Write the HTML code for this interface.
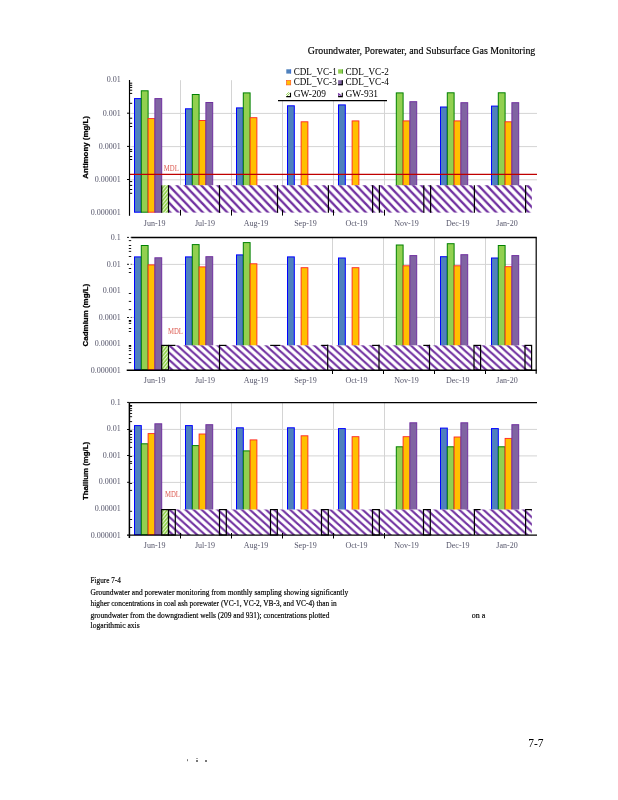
<!DOCTYPE html>
<html lang="en"><head><meta charset="utf-8"><title>Groundwater, Porewater, and Subsurface Gas Monitoring</title>
<style>html,body{margin:0;padding:0;background:#fff}body{width:618px;height:800px;overflow:hidden}svg{display:block}</style></head><body>
<svg width="618" height="800" viewBox="0 0 618 800">
<defs>
<pattern id="hp1" patternUnits="userSpaceOnUse" x="176.7" y="185.2" width="8.15" height="8.5"><path d="M-8.15,-8.5 L16.3,17.0 M0,-8.5 L24.450000000000003,17.0 M-16.3,-8.5 L8.15,17.0" stroke="#7030A0" stroke-width="2.3" fill="none"/></pattern>
<pattern id="hp2" patternUnits="userSpaceOnUse" x="177.2" y="345.3" width="8.05" height="7.3"><path d="M-8.05,-7.3 L16.1,14.6 M0,-7.3 L24.150000000000002,14.6 M-16.1,-7.3 L8.05,14.6" stroke="#7030A0" stroke-width="2.15" fill="none"/></pattern>
<pattern id="hp3" patternUnits="userSpaceOnUse" x="177.2" y="509.5" width="8.05" height="7.3"><path d="M-8.05,-7.3 L16.1,14.6 M0,-7.3 L24.150000000000002,14.6 M-16.1,-7.3 L8.05,14.6" stroke="#7030A0" stroke-width="2.15" fill="none"/></pattern>
<pattern id="hg" patternUnits="userSpaceOnUse" x="161.7" y="0" width="3.4" height="4.2"><path d="M-3.4,8.4 L6.8,-4.2 M-3.4,4.2 L3.4,-4.2 M0,8.4 L6.8,0" stroke="#8FD14A" stroke-width="1.75" fill="none"/></pattern>
</defs>
<rect width="618" height="800" fill="#fff"/>
<text x="535.30" y="54.00" font-family="&quot;Liberation Serif&quot;, serif" font-size="10.6" font-weight="normal" text-anchor="end" fill="#000" textLength="227.50" lengthAdjust="spacingAndGlyphs" stroke="#000" stroke-width="0.18">Groundwater, Porewater, and Subsurface Gas Monitoring</text>
<line x1="130.30" y1="113.40" x2="537.00" y2="113.40" stroke="#D4D4D4" stroke-width="1.0" />
<line x1="130.30" y1="146.60" x2="537.00" y2="146.60" stroke="#D4D4D4" stroke-width="1.0" />
<line x1="130.30" y1="179.80" x2="537.00" y2="179.80" stroke="#D4D4D4" stroke-width="1.0" />
<line x1="180.50" y1="80.20" x2="180.50" y2="212.60" stroke="#D4D4D4" stroke-width="1.0" />
<line x1="231.50" y1="80.20" x2="231.50" y2="212.60" stroke="#D4D4D4" stroke-width="1.0" />
<line x1="282.50" y1="80.20" x2="282.50" y2="212.60" stroke="#D4D4D4" stroke-width="1.0" />
<line x1="333.50" y1="80.20" x2="333.50" y2="212.60" stroke="#D4D4D4" stroke-width="1.0" />
<line x1="384.50" y1="80.20" x2="384.50" y2="212.60" stroke="#D4D4D4" stroke-width="1.0" />
<rect x="134.50" y="98.60" width="6.80" height="113.60" fill="#4F81BD" stroke="#0000FF" stroke-width="1.0"/>
<rect x="141.30" y="90.80" width="6.80" height="121.40" fill="#92D050" stroke="#008000" stroke-width="1.0"/>
<rect x="148.10" y="118.60" width="6.80" height="93.60" fill="#FFC000" stroke="#FF2222" stroke-width="0.9"/>
<rect x="154.90" y="98.60" width="6.80" height="113.60" fill="#8064A2" stroke="#7030A0" stroke-width="1.0"/>
<rect x="185.50" y="108.80" width="6.80" height="103.40" fill="#4F81BD" stroke="#0000FF" stroke-width="1.0"/>
<rect x="192.30" y="94.50" width="6.80" height="117.70" fill="#92D050" stroke="#008000" stroke-width="1.0"/>
<rect x="199.10" y="120.50" width="6.80" height="91.70" fill="#FFC000" stroke="#FF2222" stroke-width="0.9"/>
<rect x="205.90" y="102.50" width="6.80" height="109.70" fill="#8064A2" stroke="#7030A0" stroke-width="1.0"/>
<rect x="236.50" y="107.90" width="6.80" height="104.30" fill="#4F81BD" stroke="#0000FF" stroke-width="1.0"/>
<rect x="243.30" y="92.90" width="6.80" height="119.30" fill="#92D050" stroke="#008000" stroke-width="1.0"/>
<rect x="250.10" y="117.70" width="6.80" height="94.50" fill="#FFC000" stroke="#FF2222" stroke-width="0.9"/>
<rect x="287.50" y="105.80" width="6.80" height="106.40" fill="#4F81BD" stroke="#0000FF" stroke-width="1.0"/>
<rect x="301.10" y="121.80" width="6.80" height="90.40" fill="#FFC000" stroke="#FF2222" stroke-width="0.9"/>
<rect x="338.50" y="104.90" width="6.80" height="107.30" fill="#4F81BD" stroke="#0000FF" stroke-width="1.0"/>
<rect x="352.10" y="120.90" width="6.80" height="91.30" fill="#FFC000" stroke="#FF2222" stroke-width="0.9"/>
<rect x="396.30" y="92.90" width="6.80" height="119.30" fill="#92D050" stroke="#008000" stroke-width="1.0"/>
<rect x="403.10" y="120.90" width="6.80" height="91.30" fill="#FFC000" stroke="#FF2222" stroke-width="0.9"/>
<rect x="409.90" y="101.70" width="6.80" height="110.50" fill="#8064A2" stroke="#7030A0" stroke-width="1.0"/>
<rect x="440.50" y="107.00" width="6.80" height="105.20" fill="#4F81BD" stroke="#0000FF" stroke-width="1.0"/>
<rect x="447.30" y="92.80" width="6.80" height="119.40" fill="#92D050" stroke="#008000" stroke-width="1.0"/>
<rect x="454.10" y="120.90" width="6.80" height="91.30" fill="#FFC000" stroke="#FF2222" stroke-width="0.9"/>
<rect x="460.90" y="102.70" width="6.80" height="109.50" fill="#8064A2" stroke="#7030A0" stroke-width="1.0"/>
<rect x="491.50" y="106.10" width="6.80" height="106.10" fill="#4F81BD" stroke="#0000FF" stroke-width="1.0"/>
<rect x="498.30" y="92.80" width="6.80" height="119.40" fill="#92D050" stroke="#008000" stroke-width="1.0"/>
<rect x="505.10" y="121.80" width="6.80" height="90.40" fill="#FFC000" stroke="#FF2222" stroke-width="0.9"/>
<rect x="511.90" y="102.70" width="6.80" height="109.50" fill="#8064A2" stroke="#7030A0" stroke-width="1.0"/>
<line x1="130.00" y1="174.40" x2="537.00" y2="174.40" stroke="#C00000" stroke-width="1.4" />
<text x="163.80" y="171.10" font-family="&quot;Liberation Serif&quot;, serif" font-size="7.5" font-weight="normal" text-anchor="start" fill="#DC5A50" textLength="15.00" lengthAdjust="spacingAndGlyphs" >MDL</text>
<rect x="161.7" y="185.2" width="6.8" height="27.40" fill="#fff"/>
<rect x="161.7" y="185.2" width="6.8" height="27.40" fill="url(#hg)"/>
<rect x="168.5" y="185.2" width="363.4" height="27.80" fill="#fff"/>
<rect x="168.5" y="185.2" width="363.4" height="27.40" fill="url(#hp1)"/>
<line x1="161.70" y1="185.20" x2="161.70" y2="212.80" stroke="#000" stroke-width="1.2" />
<line x1="168.50" y1="185.20" x2="168.50" y2="212.80" stroke="#000" stroke-width="1.2" />
<line x1="219.50" y1="185.20" x2="219.50" y2="212.80" stroke="#000" stroke-width="1.2" />
<line x1="277.50" y1="185.20" x2="277.50" y2="212.80" stroke="#000" stroke-width="1.2" />
<line x1="328.40" y1="185.20" x2="328.40" y2="212.80" stroke="#000" stroke-width="1.2" />
<line x1="372.60" y1="185.20" x2="372.60" y2="212.80" stroke="#000" stroke-width="1.2" />
<line x1="379.40" y1="185.20" x2="379.40" y2="212.80" stroke="#000" stroke-width="1.2" />
<line x1="423.80" y1="185.20" x2="423.80" y2="212.80" stroke="#000" stroke-width="1.2" />
<line x1="430.60" y1="185.20" x2="430.60" y2="212.80" stroke="#000" stroke-width="1.2" />
<line x1="474.40" y1="185.20" x2="474.40" y2="212.80" stroke="#000" stroke-width="1.2" />
<line x1="525.60" y1="185.20" x2="525.60" y2="212.80" stroke="#000" stroke-width="1.2" />
<line x1="180.50" y1="209.80" x2="180.50" y2="215.60" stroke="#000" stroke-width="1.0" />
<line x1="231.50" y1="209.80" x2="231.50" y2="215.60" stroke="#000" stroke-width="1.0" />
<line x1="282.50" y1="209.80" x2="282.50" y2="215.60" stroke="#000" stroke-width="1.0" />
<line x1="333.50" y1="209.80" x2="333.50" y2="215.60" stroke="#000" stroke-width="1.0" />
<line x1="384.50" y1="209.80" x2="384.50" y2="215.60" stroke="#000" stroke-width="1.0" />
<line x1="129.50" y1="80.00" x2="129.50" y2="215.80" stroke="#000" stroke-width="1.15" />
<line x1="129.50" y1="83.20" x2="132.20" y2="83.20" stroke="#000" stroke-width="1.0" />
<line x1="129.50" y1="85.30" x2="132.20" y2="85.30" stroke="#000" stroke-width="1.0" />
<line x1="129.50" y1="87.40" x2="132.20" y2="87.40" stroke="#000" stroke-width="1.0" />
<line x1="129.50" y1="90.20" x2="132.20" y2="90.20" stroke="#000" stroke-width="1.0" />
<line x1="129.50" y1="93.40" x2="132.20" y2="93.40" stroke="#000" stroke-width="1.0" />
<line x1="129.50" y1="103.30" x2="132.20" y2="103.30" stroke="#000" stroke-width="1.0" />
<line x1="129.50" y1="118.20" x2="132.20" y2="118.20" stroke="#000" stroke-width="1.0" />
<line x1="129.50" y1="123.30" x2="132.20" y2="123.30" stroke="#000" stroke-width="1.0" />
<line x1="129.50" y1="126.50" x2="132.20" y2="126.50" stroke="#000" stroke-width="1.0" />
<line x1="129.50" y1="149.60" x2="132.20" y2="149.60" stroke="#000" stroke-width="1.0" />
<line x1="129.50" y1="151.40" x2="132.20" y2="151.40" stroke="#000" stroke-width="1.0" />
<line x1="129.50" y1="156.60" x2="132.20" y2="156.60" stroke="#000" stroke-width="1.0" />
<line x1="129.50" y1="159.50" x2="132.20" y2="159.50" stroke="#000" stroke-width="1.0" />
<line x1="129.50" y1="181.60" x2="132.20" y2="181.60" stroke="#000" stroke-width="1.0" />
<line x1="129.50" y1="185.40" x2="132.20" y2="185.40" stroke="#000" stroke-width="1.0" />
<line x1="129.50" y1="189.50" x2="132.20" y2="189.50" stroke="#000" stroke-width="1.0" />
<line x1="129.50" y1="193.30" x2="132.20" y2="193.30" stroke="#000" stroke-width="1.0" />
<line x1="127.00" y1="113.20" x2="129.50" y2="113.20" stroke="#000" stroke-width="1.0" />
<line x1="127.00" y1="146.40" x2="129.50" y2="146.40" stroke="#000" stroke-width="1.0" />
<line x1="127.00" y1="179.50" x2="129.50" y2="179.50" stroke="#000" stroke-width="1.0" />
<rect x="278" y="60" width="109" height="40.6" fill="#fff"/>
<line x1="278.00" y1="100.70" x2="387.00" y2="100.70" stroke="#000" stroke-width="1.2" />
<rect x="286.3" y="69.3" width="4.7" height="4.3" fill="#4F81BD"/><path d="M290.7,69.3 v4.3" stroke="#2F5FE0" stroke-width="0.6"/>
<text x="293.70" y="74.80" font-family="&quot;Liberation Serif&quot;, serif" font-size="10.2" font-weight="normal" text-anchor="start" fill="#000" textLength="43.00" lengthAdjust="spacingAndGlyphs" >CDL_VC-1</text>
<rect x="338.1" y="69.3" width="4.7" height="4.3" fill="#92D050"/><path d="M342.5,69.3 v4.3" stroke="#2E8B1E" stroke-width="0.7"/>
<text x="345.50" y="74.80" font-family="&quot;Liberation Serif&quot;, serif" font-size="10.2" font-weight="normal" text-anchor="start" fill="#000" textLength="43.30" lengthAdjust="spacingAndGlyphs" >CDL_VC-2</text>
<rect x="286.6" y="80.5" width="4.1000000000000005" height="4.4" fill="#FFC000" stroke="#FF5A1F" stroke-width="0.7"/>
<text x="293.70" y="85.30" font-family="&quot;Liberation Serif&quot;, serif" font-size="10.2" font-weight="normal" text-anchor="start" fill="#000" textLength="43.00" lengthAdjust="spacingAndGlyphs" >CDL_VC-3</text>
<rect x="338.1" y="80.2" width="4.7" height="5.0" fill="#8064A2"/><path d="M342.3,80.2 v4.5 h-4.2" stroke="#000" stroke-width="1.1" fill="none"/>
<text x="345.50" y="85.30" font-family="&quot;Liberation Serif&quot;, serif" font-size="10.2" font-weight="normal" text-anchor="start" fill="#000" textLength="43.30" lengthAdjust="spacingAndGlyphs" >CDL_VC-4</text>
<rect x="286.3" y="92.2" width="4.7" height="4.9" fill="#fff"/><path d="M286.3,94.8 L288.90000000000003,92.2 M286.3,96.8 L289.90000000000003,93.2" stroke="#92D050" stroke-width="1.0" fill="none"/><path d="M290.5,92.8 v3.8000000000000003 h-4.2" stroke="#000" stroke-width="1.1" fill="none"/>
<text x="293.70" y="97.20" font-family="&quot;Liberation Serif&quot;, serif" font-size="10.2" font-weight="normal" text-anchor="start" fill="#000" textLength="32.30" lengthAdjust="spacingAndGlyphs" >GW-209</text>
<rect x="338.1" y="92.2" width="4.7" height="4.9" fill="#fff"/><path d="M338.70000000000005,93.2 L338.70000000000005,96.2 M338.1,93.4 L341.3,95.8" stroke="#7030A0" stroke-width="1.1" fill="none"/><path d="M342.3,92.8 v3.8000000000000003 h-4.2" stroke="#000" stroke-width="1.1" fill="none"/>
<text x="345.50" y="97.20" font-family="&quot;Liberation Serif&quot;, serif" font-size="10.2" font-weight="normal" text-anchor="start" fill="#000" textLength="32.60" lengthAdjust="spacingAndGlyphs" >GW-931</text>
<text x="120.70" y="81.70" font-family="&quot;Liberation Serif&quot;, serif" font-size="8" font-weight="normal" text-anchor="end" fill="#55556a" >0.01</text>
<text x="120.70" y="115.80" font-family="&quot;Liberation Serif&quot;, serif" font-size="8" font-weight="normal" text-anchor="end" fill="#55556a" >0.001</text>
<text x="120.70" y="149.00" font-family="&quot;Liberation Serif&quot;, serif" font-size="8" font-weight="normal" text-anchor="end" fill="#55556a" >0.0001</text>
<text x="120.70" y="181.70" font-family="&quot;Liberation Serif&quot;, serif" font-size="8" font-weight="normal" text-anchor="end" fill="#55556a" >0.00001</text>
<text x="120.70" y="214.90" font-family="&quot;Liberation Serif&quot;, serif" font-size="8" font-weight="normal" text-anchor="end" fill="#55556a" >0.000001</text>
<text x="154.70" y="225.70" font-family="&quot;Liberation Serif&quot;, serif" font-size="8" font-weight="normal" text-anchor="middle" fill="#55556a" >Jun-19</text>
<text x="205.00" y="225.70" font-family="&quot;Liberation Serif&quot;, serif" font-size="8" font-weight="normal" text-anchor="middle" fill="#55556a" >Jul-19</text>
<text x="256.00" y="225.70" font-family="&quot;Liberation Serif&quot;, serif" font-size="8" font-weight="normal" text-anchor="middle" fill="#55556a" >Aug-19</text>
<text x="305.50" y="225.70" font-family="&quot;Liberation Serif&quot;, serif" font-size="8" font-weight="normal" text-anchor="middle" fill="#55556a" >Sep-19</text>
<text x="356.50" y="225.70" font-family="&quot;Liberation Serif&quot;, serif" font-size="8" font-weight="normal" text-anchor="middle" fill="#55556a" >Oct-19</text>
<text x="406.50" y="225.70" font-family="&quot;Liberation Serif&quot;, serif" font-size="8" font-weight="normal" text-anchor="middle" fill="#55556a" >Nov-19</text>
<text x="457.80" y="225.70" font-family="&quot;Liberation Serif&quot;, serif" font-size="8" font-weight="normal" text-anchor="middle" fill="#55556a" >Dec-19</text>
<text x="507.00" y="225.70" font-family="&quot;Liberation Serif&quot;, serif" font-size="8" font-weight="normal" text-anchor="middle" fill="#55556a" >Jan-20</text>
<text transform="translate(87.5,147.4) rotate(-90)" font-family="&quot;Liberation Sans&quot;, sans-serif" font-size="7.3" font-weight="bold" text-anchor="middle" fill="#000" stroke="#000" stroke-width="0.25" textLength="62.8" lengthAdjust="spacingAndGlyphs">Antimony (mg/L)</text>
<line x1="131.30" y1="264.40" x2="536.00" y2="264.40" stroke="#D4D4D4" stroke-width="1.0" />
<line x1="131.30" y1="317.40" x2="536.00" y2="317.40" stroke="#D4D4D4" stroke-width="1.0" />
<line x1="332.50" y1="238.00" x2="332.50" y2="370.00" stroke="#D4D4D4" stroke-width="1.0" />
<line x1="383.50" y1="238.00" x2="383.50" y2="370.00" stroke="#D4D4D4" stroke-width="1.0" />
<line x1="434.50" y1="238.00" x2="434.50" y2="370.00" stroke="#D4D4D4" stroke-width="1.0" />
<line x1="485.50" y1="238.00" x2="485.50" y2="370.00" stroke="#D4D4D4" stroke-width="1.0" />
<rect x="134.50" y="256.90" width="6.80" height="112.70" fill="#4F81BD" stroke="#0000FF" stroke-width="1.0"/>
<rect x="141.30" y="245.50" width="6.80" height="124.10" fill="#92D050" stroke="#008000" stroke-width="1.0"/>
<rect x="148.10" y="264.90" width="6.80" height="104.70" fill="#FFC000" stroke="#FF2222" stroke-width="0.9"/>
<rect x="154.90" y="257.80" width="6.80" height="111.80" fill="#8064A2" stroke="#7030A0" stroke-width="1.0"/>
<rect x="185.50" y="256.90" width="6.80" height="112.70" fill="#4F81BD" stroke="#0000FF" stroke-width="1.0"/>
<rect x="192.30" y="244.60" width="6.80" height="125.00" fill="#92D050" stroke="#008000" stroke-width="1.0"/>
<rect x="199.10" y="266.90" width="6.80" height="102.70" fill="#FFC000" stroke="#FF2222" stroke-width="0.9"/>
<rect x="205.90" y="256.70" width="6.80" height="112.90" fill="#8064A2" stroke="#7030A0" stroke-width="1.0"/>
<rect x="236.50" y="254.90" width="6.80" height="114.70" fill="#4F81BD" stroke="#0000FF" stroke-width="1.0"/>
<rect x="243.30" y="242.60" width="6.80" height="127.00" fill="#92D050" stroke="#008000" stroke-width="1.0"/>
<rect x="250.10" y="263.80" width="6.80" height="105.80" fill="#FFC000" stroke="#FF2222" stroke-width="0.9"/>
<rect x="287.50" y="256.90" width="6.80" height="112.70" fill="#4F81BD" stroke="#0000FF" stroke-width="1.0"/>
<rect x="301.10" y="267.70" width="6.80" height="101.90" fill="#FFC000" stroke="#FF2222" stroke-width="0.9"/>
<rect x="338.50" y="258.00" width="6.80" height="111.60" fill="#4F81BD" stroke="#0000FF" stroke-width="1.0"/>
<rect x="352.10" y="267.70" width="6.80" height="101.90" fill="#FFC000" stroke="#FF2222" stroke-width="0.9"/>
<rect x="396.30" y="245.00" width="6.80" height="124.60" fill="#92D050" stroke="#008000" stroke-width="1.0"/>
<rect x="403.10" y="265.80" width="6.80" height="103.80" fill="#FFC000" stroke="#FF2222" stroke-width="0.9"/>
<rect x="409.90" y="255.60" width="6.80" height="114.00" fill="#8064A2" stroke="#7030A0" stroke-width="1.0"/>
<rect x="440.50" y="256.70" width="6.80" height="112.90" fill="#4F81BD" stroke="#0000FF" stroke-width="1.0"/>
<rect x="447.30" y="243.70" width="6.80" height="125.90" fill="#92D050" stroke="#008000" stroke-width="1.0"/>
<rect x="454.10" y="265.80" width="6.80" height="103.80" fill="#FFC000" stroke="#FF2222" stroke-width="0.9"/>
<rect x="460.90" y="254.70" width="6.80" height="114.90" fill="#8064A2" stroke="#7030A0" stroke-width="1.0"/>
<rect x="491.50" y="258.00" width="6.80" height="111.60" fill="#4F81BD" stroke="#0000FF" stroke-width="1.0"/>
<rect x="498.30" y="245.50" width="6.80" height="124.10" fill="#92D050" stroke="#008000" stroke-width="1.0"/>
<rect x="505.10" y="266.70" width="6.80" height="102.90" fill="#FFC000" stroke="#FF2222" stroke-width="0.9"/>
<rect x="511.90" y="255.60" width="6.80" height="114.00" fill="#8064A2" stroke="#7030A0" stroke-width="1.0"/>
<text x="167.90" y="334.00" font-family="&quot;Liberation Serif&quot;, serif" font-size="7.5" font-weight="normal" text-anchor="start" fill="#DC5A50" textLength="15.00" lengthAdjust="spacingAndGlyphs" >MDL</text>
<rect x="161.7" y="345.3" width="6.8" height="24.70" fill="#fff"/>
<rect x="161.7" y="345.3" width="6.8" height="24.70" fill="url(#hg)"/>
<rect x="168.5" y="345.3" width="363.4" height="25.10" fill="#fff"/>
<rect x="168.5" y="345.3" width="363.4" height="24.70" fill="url(#hp2)"/>
<rect x="161.7" y="345.4" width="6.8" height="24.6" fill="none" stroke="#000" stroke-width="1.2"/>
<line x1="168.50" y1="345.40" x2="175.40" y2="345.40" stroke="#000" stroke-width="1.2" />
<line x1="219.50" y1="345.40" x2="226.40" y2="345.40" stroke="#000" stroke-width="1.2" />
<line x1="270.20" y1="345.40" x2="280.40" y2="345.40" stroke="#000" stroke-width="1.2" />
<line x1="321.20" y1="345.40" x2="328.30" y2="345.40" stroke="#000" stroke-width="1.2" />
<line x1="372.10" y1="345.40" x2="379.60" y2="345.40" stroke="#000" stroke-width="1.2" />
<line x1="423.30" y1="345.40" x2="430.10" y2="345.40" stroke="#000" stroke-width="1.2" />
<line x1="219.50" y1="344.80" x2="219.50" y2="370.00" stroke="#000" stroke-width="1.2" />
<line x1="327.70" y1="344.80" x2="327.70" y2="370.00" stroke="#000" stroke-width="1.2" />
<line x1="379.00" y1="344.80" x2="379.00" y2="370.00" stroke="#000" stroke-width="1.2" />
<line x1="429.50" y1="344.80" x2="429.50" y2="370.00" stroke="#000" stroke-width="1.2" />
<rect x="474.0" y="345.4" width="6.6" height="24.6" fill="none" stroke="#000" stroke-width="1.2"/>
<rect x="525.0" y="345.4" width="6.6" height="24.6" fill="none" stroke="#000" stroke-width="1.2"/>
<line x1="131.30" y1="237.50" x2="536.80" y2="237.50" stroke="#000" stroke-width="1.3" />
<line x1="536.20" y1="237.50" x2="536.20" y2="373.80" stroke="#000" stroke-width="1.2" />
<line x1="126.70" y1="370.30" x2="536.80" y2="370.30" stroke="#000" stroke-width="1.4" />
<line x1="332.50" y1="370.00" x2="332.50" y2="374.00" stroke="#000" stroke-width="1.0" />
<line x1="383.50" y1="370.00" x2="383.50" y2="374.00" stroke="#000" stroke-width="1.0" />
<line x1="434.50" y1="370.00" x2="434.50" y2="374.00" stroke="#000" stroke-width="1.0" />
<line x1="485.50" y1="370.00" x2="485.50" y2="374.00" stroke="#000" stroke-width="1.0" />
<line x1="128.80" y1="240.60" x2="131.20" y2="240.60" stroke="#000" stroke-width="0.9" />
<line x1="128.80" y1="245.50" x2="131.20" y2="245.50" stroke="#000" stroke-width="0.9" />
<line x1="128.80" y1="248.50" x2="131.20" y2="248.50" stroke="#000" stroke-width="0.9" />
<line x1="128.80" y1="251.40" x2="131.20" y2="251.40" stroke="#000" stroke-width="0.9" />
<line x1="128.80" y1="256.50" x2="131.20" y2="256.50" stroke="#000" stroke-width="0.9" />
<line x1="128.80" y1="268.50" x2="131.20" y2="268.50" stroke="#000" stroke-width="0.9" />
<line x1="128.80" y1="272.50" x2="131.20" y2="272.50" stroke="#000" stroke-width="0.9" />
<line x1="128.80" y1="293.50" x2="131.20" y2="293.50" stroke="#000" stroke-width="0.9" />
<line x1="128.80" y1="301.40" x2="131.20" y2="301.40" stroke="#000" stroke-width="0.9" />
<line x1="128.80" y1="309.60" x2="131.20" y2="309.60" stroke="#000" stroke-width="0.9" />
<line x1="128.80" y1="323.40" x2="131.20" y2="323.40" stroke="#000" stroke-width="0.9" />
<line x1="128.80" y1="328.50" x2="131.20" y2="328.50" stroke="#000" stroke-width="0.9" />
<line x1="128.80" y1="331.50" x2="131.20" y2="331.50" stroke="#000" stroke-width="0.9" />
<line x1="128.80" y1="348.40" x2="131.20" y2="348.40" stroke="#000" stroke-width="0.9" />
<line x1="128.80" y1="350.60" x2="131.20" y2="350.60" stroke="#000" stroke-width="0.9" />
<line x1="128.80" y1="354.50" x2="131.20" y2="354.50" stroke="#000" stroke-width="0.9" />
<line x1="128.80" y1="358.50" x2="131.20" y2="358.50" stroke="#000" stroke-width="0.9" />
<line x1="128.80" y1="362.60" x2="131.20" y2="362.60" stroke="#000" stroke-width="0.9" />
<line x1="128.80" y1="320.90" x2="131.20" y2="320.90" stroke="#000" stroke-width="1.8" />
<line x1="128.80" y1="345.90" x2="131.20" y2="345.90" stroke="#000" stroke-width="1.8" />
<line x1="127.00" y1="237.40" x2="129.00" y2="237.40" stroke="#000" stroke-width="0.9" />
<line x1="130.70" y1="237.40" x2="131.60" y2="237.40" stroke="#000" stroke-width="0.9" />
<line x1="127.00" y1="264.30" x2="129.00" y2="264.30" stroke="#000" stroke-width="0.9" />
<line x1="130.70" y1="264.30" x2="131.60" y2="264.30" stroke="#000" stroke-width="0.9" />
<line x1="127.00" y1="317.50" x2="129.00" y2="317.50" stroke="#000" stroke-width="0.9" />
<line x1="130.70" y1="317.50" x2="131.60" y2="317.50" stroke="#000" stroke-width="0.9" />
<text x="120.70" y="239.80" font-family="&quot;Liberation Serif&quot;, serif" font-size="8" font-weight="normal" text-anchor="end" fill="#55556a" >0.1</text>
<text x="120.70" y="266.50" font-family="&quot;Liberation Serif&quot;, serif" font-size="8" font-weight="normal" text-anchor="end" fill="#55556a" >0.01</text>
<text x="120.70" y="293.10" font-family="&quot;Liberation Serif&quot;, serif" font-size="8" font-weight="normal" text-anchor="end" fill="#55556a" >0.001</text>
<text x="120.70" y="319.60" font-family="&quot;Liberation Serif&quot;, serif" font-size="8" font-weight="normal" text-anchor="end" fill="#55556a" >0.0001</text>
<text x="120.70" y="345.90" font-family="&quot;Liberation Serif&quot;, serif" font-size="8" font-weight="normal" text-anchor="end" fill="#55556a" >0.00001</text>
<text x="120.70" y="372.80" font-family="&quot;Liberation Serif&quot;, serif" font-size="8" font-weight="normal" text-anchor="end" fill="#55556a" >0.000001</text>
<text x="154.70" y="383.10" font-family="&quot;Liberation Serif&quot;, serif" font-size="8" font-weight="normal" text-anchor="middle" fill="#55556a" >Jun-19</text>
<text x="205.00" y="383.10" font-family="&quot;Liberation Serif&quot;, serif" font-size="8" font-weight="normal" text-anchor="middle" fill="#55556a" >Jul-19</text>
<text x="256.00" y="383.10" font-family="&quot;Liberation Serif&quot;, serif" font-size="8" font-weight="normal" text-anchor="middle" fill="#55556a" >Aug-19</text>
<text x="305.50" y="383.10" font-family="&quot;Liberation Serif&quot;, serif" font-size="8" font-weight="normal" text-anchor="middle" fill="#55556a" >Sep-19</text>
<text x="356.50" y="383.10" font-family="&quot;Liberation Serif&quot;, serif" font-size="8" font-weight="normal" text-anchor="middle" fill="#55556a" >Oct-19</text>
<text x="406.50" y="383.10" font-family="&quot;Liberation Serif&quot;, serif" font-size="8" font-weight="normal" text-anchor="middle" fill="#55556a" >Nov-19</text>
<text x="457.80" y="383.10" font-family="&quot;Liberation Serif&quot;, serif" font-size="8" font-weight="normal" text-anchor="middle" fill="#55556a" >Dec-19</text>
<text x="507.00" y="383.10" font-family="&quot;Liberation Serif&quot;, serif" font-size="8" font-weight="normal" text-anchor="middle" fill="#55556a" >Jan-20</text>
<text transform="translate(87.5,315.1) rotate(-90)" font-family="&quot;Liberation Sans&quot;, sans-serif" font-size="7.3" font-weight="bold" text-anchor="middle" fill="#000" stroke="#000" stroke-width="0.25" textLength="62.7" lengthAdjust="spacingAndGlyphs">Cadmium (mg/L)</text>
<line x1="130.00" y1="429.40" x2="537.00" y2="429.40" stroke="#D4D4D4" stroke-width="1.0" />
<line x1="130.00" y1="455.90" x2="537.00" y2="455.90" stroke="#D4D4D4" stroke-width="1.0" />
<line x1="130.00" y1="482.40" x2="537.00" y2="482.40" stroke="#D4D4D4" stroke-width="1.0" />
<line x1="180.50" y1="403.00" x2="180.50" y2="535.00" stroke="#D4D4D4" stroke-width="1.0" />
<line x1="231.50" y1="403.00" x2="231.50" y2="535.00" stroke="#D4D4D4" stroke-width="1.0" />
<line x1="282.50" y1="403.00" x2="282.50" y2="535.00" stroke="#D4D4D4" stroke-width="1.0" />
<line x1="333.50" y1="403.00" x2="333.50" y2="535.00" stroke="#D4D4D4" stroke-width="1.0" />
<line x1="384.50" y1="403.00" x2="384.50" y2="535.00" stroke="#D4D4D4" stroke-width="1.0" />
<rect x="134.50" y="425.60" width="6.80" height="109.00" fill="#4F81BD" stroke="#0000FF" stroke-width="1.0"/>
<rect x="141.30" y="443.80" width="6.80" height="90.80" fill="#92D050" stroke="#008000" stroke-width="1.0"/>
<rect x="148.10" y="433.60" width="6.80" height="101.00" fill="#FFC000" stroke="#FF2222" stroke-width="0.9"/>
<rect x="154.90" y="423.80" width="6.80" height="110.80" fill="#8064A2" stroke="#7030A0" stroke-width="1.0"/>
<rect x="185.50" y="425.60" width="6.80" height="109.00" fill="#4F81BD" stroke="#0000FF" stroke-width="1.0"/>
<rect x="192.30" y="445.60" width="6.80" height="89.00" fill="#92D050" stroke="#008000" stroke-width="1.0"/>
<rect x="199.10" y="434.00" width="6.80" height="100.60" fill="#FFC000" stroke="#FF2222" stroke-width="0.9"/>
<rect x="205.90" y="424.70" width="6.80" height="109.90" fill="#8064A2" stroke="#7030A0" stroke-width="1.0"/>
<rect x="236.50" y="427.80" width="6.80" height="106.80" fill="#4F81BD" stroke="#0000FF" stroke-width="1.0"/>
<rect x="243.30" y="450.90" width="6.80" height="83.70" fill="#92D050" stroke="#008000" stroke-width="1.0"/>
<rect x="250.10" y="439.90" width="6.80" height="94.70" fill="#FFC000" stroke="#FF2222" stroke-width="0.9"/>
<rect x="287.50" y="427.80" width="6.80" height="106.80" fill="#4F81BD" stroke="#0000FF" stroke-width="1.0"/>
<rect x="301.10" y="435.80" width="6.80" height="98.80" fill="#FFC000" stroke="#FF2222" stroke-width="0.9"/>
<rect x="338.50" y="428.60" width="6.80" height="106.00" fill="#4F81BD" stroke="#0000FF" stroke-width="1.0"/>
<rect x="352.10" y="436.70" width="6.80" height="97.90" fill="#FFC000" stroke="#FF2222" stroke-width="0.9"/>
<rect x="396.30" y="446.80" width="6.80" height="87.80" fill="#92D050" stroke="#008000" stroke-width="1.0"/>
<rect x="403.10" y="436.70" width="6.80" height="97.90" fill="#FFC000" stroke="#FF2222" stroke-width="0.9"/>
<rect x="409.90" y="422.80" width="6.80" height="111.80" fill="#8064A2" stroke="#7030A0" stroke-width="1.0"/>
<rect x="440.50" y="428.10" width="6.80" height="106.50" fill="#4F81BD" stroke="#0000FF" stroke-width="1.0"/>
<rect x="447.30" y="446.80" width="6.80" height="87.80" fill="#92D050" stroke="#008000" stroke-width="1.0"/>
<rect x="454.10" y="437.00" width="6.80" height="97.60" fill="#FFC000" stroke="#FF2222" stroke-width="0.9"/>
<rect x="460.90" y="422.80" width="6.80" height="111.80" fill="#8064A2" stroke="#7030A0" stroke-width="1.0"/>
<rect x="491.50" y="428.60" width="6.80" height="106.00" fill="#4F81BD" stroke="#0000FF" stroke-width="1.0"/>
<rect x="498.30" y="446.80" width="6.80" height="87.80" fill="#92D050" stroke="#008000" stroke-width="1.0"/>
<rect x="505.10" y="438.40" width="6.80" height="96.20" fill="#FFC000" stroke="#FF2222" stroke-width="0.9"/>
<rect x="511.90" y="424.70" width="6.80" height="109.90" fill="#8064A2" stroke="#7030A0" stroke-width="1.0"/>
<text x="164.90" y="496.80" font-family="&quot;Liberation Serif&quot;, serif" font-size="7.5" font-weight="normal" text-anchor="start" fill="#DC5A50" textLength="15.00" lengthAdjust="spacingAndGlyphs" >MDL</text>
<rect x="161.7" y="509.5" width="6.8" height="25.50" fill="#fff"/>
<rect x="161.7" y="509.5" width="6.8" height="25.50" fill="url(#hg)"/>
<rect x="168.5" y="509.5" width="363.4" height="25.90" fill="#fff"/>
<rect x="168.5" y="509.5" width="363.4" height="25.50" fill="url(#hp3)"/>
<rect x="161.7" y="509.6" width="6.8" height="25.4" fill="none" stroke="#000" stroke-width="1.2"/>
<rect x="168.5" y="509.6" width="6.8" height="25.4" fill="none" stroke="#000" stroke-width="1.2"/>
<rect x="219.5" y="509.6" width="6.8" height="25.4" fill="none" stroke="#000" stroke-width="1.2"/>
<rect x="270.5" y="509.6" width="6.8" height="25.4" fill="none" stroke="#000" stroke-width="1.2"/>
<rect x="321.5" y="509.6" width="6.8" height="25.4" fill="none" stroke="#000" stroke-width="1.2"/>
<rect x="372.5" y="509.6" width="6.8" height="25.4" fill="none" stroke="#000" stroke-width="1.2"/>
<rect x="423.5" y="509.6" width="6.8" height="25.4" fill="none" stroke="#000" stroke-width="1.2"/>
<line x1="474.40" y1="509.00" x2="474.40" y2="535.00" stroke="#000" stroke-width="1.2" />
<line x1="474.40" y1="509.60" x2="480.60" y2="509.60" stroke="#000" stroke-width="1.2" />
<line x1="525.60" y1="509.00" x2="525.60" y2="535.00" stroke="#000" stroke-width="1.2" />
<line x1="525.60" y1="509.60" x2="531.90" y2="509.60" stroke="#000" stroke-width="1.2" />
<line x1="129.40" y1="402.60" x2="537.00" y2="402.60" stroke="#000" stroke-width="1.3" />
<line x1="127.00" y1="535.10" x2="537.00" y2="535.10" stroke="#000" stroke-width="1.4" />
<line x1="129.40" y1="402.60" x2="129.40" y2="538.00" stroke="#000" stroke-width="1.5" />
<line x1="180.50" y1="533.00" x2="180.50" y2="538.50" stroke="#000" stroke-width="1.0" />
<line x1="231.50" y1="533.00" x2="231.50" y2="538.50" stroke="#000" stroke-width="1.0" />
<line x1="282.50" y1="533.00" x2="282.50" y2="538.50" stroke="#000" stroke-width="1.0" />
<line x1="333.50" y1="533.00" x2="333.50" y2="538.50" stroke="#000" stroke-width="1.0" />
<line x1="384.50" y1="533.00" x2="384.50" y2="538.50" stroke="#000" stroke-width="1.0" />
<line x1="129.40" y1="408.60" x2="132.10" y2="408.60" stroke="#000" stroke-width="0.9" />
<line x1="129.40" y1="410.60" x2="132.10" y2="410.60" stroke="#000" stroke-width="0.9" />
<line x1="129.40" y1="413.50" x2="132.10" y2="413.50" stroke="#000" stroke-width="0.9" />
<line x1="129.40" y1="416.70" x2="132.10" y2="416.70" stroke="#000" stroke-width="0.9" />
<line x1="129.40" y1="421.60" x2="132.10" y2="421.60" stroke="#000" stroke-width="0.9" />
<line x1="129.40" y1="434.50" x2="132.10" y2="434.50" stroke="#000" stroke-width="0.9" />
<line x1="129.40" y1="437.40" x2="132.10" y2="437.40" stroke="#000" stroke-width="0.9" />
<line x1="129.40" y1="439.60" x2="132.10" y2="439.60" stroke="#000" stroke-width="0.9" />
<line x1="129.40" y1="442.40" x2="132.10" y2="442.40" stroke="#000" stroke-width="0.9" />
<line x1="129.40" y1="447.40" x2="132.10" y2="447.40" stroke="#000" stroke-width="0.9" />
<line x1="129.40" y1="456.50" x2="132.10" y2="456.50" stroke="#000" stroke-width="0.9" />
<line x1="129.40" y1="461.60" x2="132.10" y2="461.60" stroke="#000" stroke-width="0.9" />
<line x1="129.40" y1="463.40" x2="132.10" y2="463.40" stroke="#000" stroke-width="0.9" />
<line x1="129.40" y1="469.50" x2="132.10" y2="469.50" stroke="#000" stroke-width="0.9" />
<line x1="129.40" y1="483.50" x2="132.10" y2="483.50" stroke="#000" stroke-width="0.9" />
<line x1="129.40" y1="490.40" x2="132.10" y2="490.40" stroke="#000" stroke-width="0.9" />
<line x1="129.40" y1="511.30" x2="132.10" y2="511.30" stroke="#000" stroke-width="0.9" />
<line x1="129.40" y1="519.50" x2="132.10" y2="519.50" stroke="#000" stroke-width="0.9" />
<line x1="129.40" y1="527.50" x2="132.10" y2="527.50" stroke="#000" stroke-width="0.9" />
<line x1="129.40" y1="405.90" x2="132.10" y2="405.90" stroke="#000" stroke-width="1.7" />
<line x1="129.40" y1="431.20" x2="132.10" y2="431.20" stroke="#000" stroke-width="1.7" />
<line x1="127.10" y1="402.40" x2="129.40" y2="402.40" stroke="#000" stroke-width="1.0" />
<line x1="127.10" y1="429.50" x2="129.40" y2="429.50" stroke="#000" stroke-width="1.0" />
<line x1="127.10" y1="455.50" x2="129.40" y2="455.50" stroke="#000" stroke-width="1.0" />
<line x1="127.10" y1="482.30" x2="129.40" y2="482.30" stroke="#000" stroke-width="1.0" />
<text x="120.70" y="404.70" font-family="&quot;Liberation Serif&quot;, serif" font-size="8" font-weight="normal" text-anchor="end" fill="#55556a" >0.1</text>
<text x="120.70" y="431.30" font-family="&quot;Liberation Serif&quot;, serif" font-size="8" font-weight="normal" text-anchor="end" fill="#55556a" >0.01</text>
<text x="120.70" y="457.80" font-family="&quot;Liberation Serif&quot;, serif" font-size="8" font-weight="normal" text-anchor="end" fill="#55556a" >0.001</text>
<text x="120.70" y="484.30" font-family="&quot;Liberation Serif&quot;, serif" font-size="8" font-weight="normal" text-anchor="end" fill="#55556a" >0.0001</text>
<text x="120.70" y="511.00" font-family="&quot;Liberation Serif&quot;, serif" font-size="8" font-weight="normal" text-anchor="end" fill="#55556a" >0.00001</text>
<text x="120.70" y="537.90" font-family="&quot;Liberation Serif&quot;, serif" font-size="8" font-weight="normal" text-anchor="end" fill="#55556a" >0.000001</text>
<text x="154.70" y="547.60" font-family="&quot;Liberation Serif&quot;, serif" font-size="8" font-weight="normal" text-anchor="middle" fill="#55556a" >Jun-19</text>
<text x="205.00" y="547.60" font-family="&quot;Liberation Serif&quot;, serif" font-size="8" font-weight="normal" text-anchor="middle" fill="#55556a" >Jul-19</text>
<text x="256.00" y="547.60" font-family="&quot;Liberation Serif&quot;, serif" font-size="8" font-weight="normal" text-anchor="middle" fill="#55556a" >Aug-19</text>
<text x="305.50" y="547.60" font-family="&quot;Liberation Serif&quot;, serif" font-size="8" font-weight="normal" text-anchor="middle" fill="#55556a" >Sep-19</text>
<text x="356.50" y="547.60" font-family="&quot;Liberation Serif&quot;, serif" font-size="8" font-weight="normal" text-anchor="middle" fill="#55556a" >Oct-19</text>
<text x="406.50" y="547.60" font-family="&quot;Liberation Serif&quot;, serif" font-size="8" font-weight="normal" text-anchor="middle" fill="#55556a" >Nov-19</text>
<text x="457.80" y="547.60" font-family="&quot;Liberation Serif&quot;, serif" font-size="8" font-weight="normal" text-anchor="middle" fill="#55556a" >Dec-19</text>
<text x="507.00" y="547.60" font-family="&quot;Liberation Serif&quot;, serif" font-size="8" font-weight="normal" text-anchor="middle" fill="#55556a" >Jan-20</text>
<text transform="translate(87.5,471) rotate(-90)" font-family="&quot;Liberation Sans&quot;, sans-serif" font-size="7.3" font-weight="bold" text-anchor="middle" fill="#000" stroke="#000" stroke-width="0.25" textLength="58" lengthAdjust="spacingAndGlyphs">Thallium (mg/L)</text>
<text x="90.60" y="582.60" font-family="&quot;Liberation Serif&quot;, serif" font-size="8.8" font-weight="normal" text-anchor="start" fill="#000" textLength="30.20" lengthAdjust="spacingAndGlyphs" stroke="#000" stroke-width="0.18">Figure 7-4</text>
<text x="90.60" y="594.80" font-family="&quot;Liberation Serif&quot;, serif" font-size="8.8" font-weight="normal" text-anchor="start" fill="#000" textLength="257.60" lengthAdjust="spacingAndGlyphs" stroke="#000" stroke-width="0.18">Groundwater and porewater monitoring from monthly sampling showing significantly</text>
<text x="90.60" y="605.90" font-family="&quot;Liberation Serif&quot;, serif" font-size="8.8" font-weight="normal" text-anchor="start" fill="#000" textLength="246.10" lengthAdjust="spacingAndGlyphs" stroke="#000" stroke-width="0.18">higher concentrations in coal ash porewater (VC-1, VC-2, VB-3, and VC-4) than in</text>
<text x="90.60" y="617.50" font-family="&quot;Liberation Serif&quot;, serif" font-size="8.8" font-weight="normal" text-anchor="start" fill="#000" textLength="238.80" lengthAdjust="spacingAndGlyphs" stroke="#000" stroke-width="0.18">groundwater from the downgradient wells (209 and 931); concentrations plotted</text>
<text x="90.60" y="627.50" font-family="&quot;Liberation Serif&quot;, serif" font-size="8.8" font-weight="normal" text-anchor="start" fill="#000" textLength="49.00" lengthAdjust="spacingAndGlyphs" stroke="#000" stroke-width="0.18">logarithmic axis</text>
<text x="471.70" y="617.90" font-family="&quot;Liberation Serif&quot;, serif" font-size="8.8" font-weight="normal" text-anchor="start" fill="#000" textLength="13.50" lengthAdjust="spacingAndGlyphs" stroke="#000" stroke-width="0.18">on a</text>
<text x="528.20" y="746.70" font-family="&quot;Liberation Serif&quot;, serif" font-size="13.4" font-weight="normal" text-anchor="start" fill="#000" textLength="15.30" lengthAdjust="spacingAndGlyphs" >7-7</text>
<rect x="187.0" y="759.2" width="1" height="2" fill="#777"/><rect x="196" y="758.1" width="2" height="0.6" fill="#666"/><rect x="196" y="760" width="2" height="2" fill="#777"/><rect x="205" y="760" width="2" height="2" fill="#777"/>
</svg></body></html>
